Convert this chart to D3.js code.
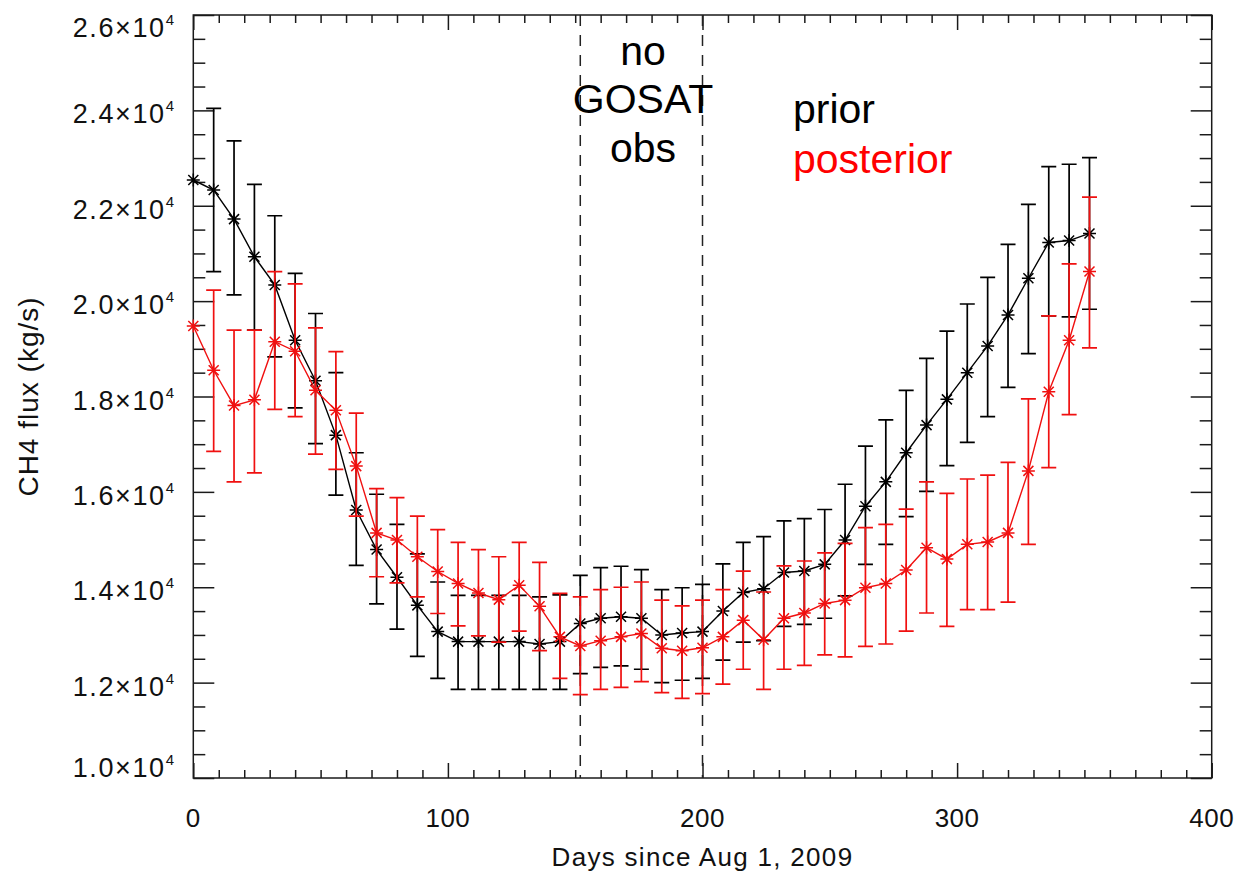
<!DOCTYPE html>
<meta charset="utf-8">
<head>
  <title>CH4 flux prior vs posterior</title>
  <script src="https://d3js.org/d3.v7.min.js"></script>
  <style>
    body { margin: 0; background: #fff; }
    text { font-family: "Liberation Sans", Arial, sans-serif; }
  </style>
</head>
<body>
<div id="chart"></div>
<script>
// days since Aug 1, 2009 (one point every 8 days)
var days = [0, 8, 16, 24, 32, 40, 48, 56, 64, 72, 80, 88, 96, 104, 112, 120, 128, 136, 144, 152, 160, 168,
  176, 184, 192, 200, 208, 216, 224, 232, 240, 248, 256, 264, 272, 280, 288, 296, 304, 312, 320, 328, 336, 344, 352];

// prior flux (kg/s) and its error bar ends
var prior = [22540, 22330, 21720, 20930, 20340, 19180, 18330, 17190, 15620, 14790, 14210, 13620, 13070, 12860, 12860,
  12860, 12860, 12810, 12860, 13240, 13350, 13380, 13350, 13000, 13040, 13070, 13500, 13890, 13970, 14310, 14340,
  14480, 14990, 15700, 16210, 16820, 17400, 17940, 18500, 19060, 19710, 20480, 21230, 21270, 21420];
var priorHi = [null, 24040, 23360, 22450, 21790, 20580, 19740, 18500, 16820, 15950, 15320, 14700, 14110, 13830, 13830,
  13830, 13830, 13800, 13840, 14250, 14410, 14440, 14370, 13950, 13990, 14060, 14490, 14940, 15060, 15390, 15440,
  15630, 16160, 16960, 17510, 18130, 18800, 19370, 19940, 20500, 21190, 22030, 22820, 22870, 23010];
var priorLo = [null, 20620, 20130, 19390, 18830, 17760, 17010, 15930, 14460, 13650, 13120, 12550, 12090, 11860, 11860,
  11860, 11860, 11860, 11860, 12190, 12320, 12350, 12280, 12000, 12050, 12090, 12470, 12850, 12880, 13180, 13220,
  13350, 13820, 14480, 14900, 15480, 16010, 16550, 17040, 17580, 18190, 18900, 19690, 19670, 19830];

// posterior flux (kg/s) and its error bar ends
var posterior = [19480, 18550, 17810, 17930, 19150, 18950, 18130, 17710, 16540, 15140, 14990, 14640, 14330, 14080, 13880,
  13740, 14040, 13600, 12960, 12770, 12880, 12960, 13030, 12720, 12670, 12730, 12960, 13310, 12900, 13350, 13460,
  13660, 13730, 13990, 14080, 14360, 14830, 14590, 14900, 14950, 15140, 16440, 18100, 19180, 20620];
var postHi = [null, 20230, 19390, 19390, 20620, 20360, 19440, 18940, 17650, 16070, 15880, 15490, 15210, 14940, 14790,
  14640, 14940, 14520, 13870, 13800, 13950, 14000, 14110, 13730, 13610, 13730, 13950, 14340, 13900, 14450, 14550,
  14720, 14920, 15250, 15320, 15640, 16210, 15970, 16270, 16350, 16620, 17950, 19690, 20780, 22180];
var postLo = [null, 16850, 16210, 16400, 17730, 17580, 16790, 16470, 15490, 14220, 14090, 13800, 13450, 13190, 12980,
  12850, 13080, 12670, 12090, 11750, 11860, 11900, 12020, 11790, 11670, 11770, 11970, 12280, 11860, 12280, 12360,
  12580, 12540, 12760, 12810, 13080, 13460, 13180, 13530, 13530, 13690, 14900, 16510, 17620, 19020];

var xTicks = [0, 100, 200, 300, 400];
var yTicks = [10000, 12000, 14000, 16000, 18000, 20000, 22000, 24000, 26000];
var yTickText = ["1.0", "1.2", "1.4", "1.6", "1.8", "2.0", "2.2", "2.4", "2.6"];
var noObsDays = [152, 200];

var svg = d3.select("#chart").append("svg")
  .attr("width", 1240).attr("height", 879);

var x = d3.scaleLinear().domain([0, 400]).range([193.3, 1211.7]);
var y = d3.scaleLinear().domain([10000, 26000]).range([778, 15]);

var axisColor = "#1a1a1a";

// mirrored minor / major ticks on all four sides
function tickAxis(axisFn, scale, values, size, tx, ty) {
  var g = svg.append("g").attr("transform", "translate(" + tx + "," + ty + ")")
    .call(axisFn(scale).tickValues(values).tickSize(size).tickFormat(""));
  g.select(".domain").remove();
  g.selectAll("line").attr("stroke", axisColor).attr("stroke-width", 1.5);
  return g;
}
var xMinor = d3.range(0, 401, 10).filter(function(d) { return d % 100 != 0; });
var yMinor = d3.range(10000, 26001, 500).filter(function(d) { return d % 2000 != 0; });
tickAxis(d3.axisBottom, x, xTicks, -15, 0, 778);
tickAxis(d3.axisBottom, x, xMinor, -8, 0, 778);
tickAxis(d3.axisTop, x, xTicks, -15, 0, 15);
tickAxis(d3.axisTop, x, xMinor, -8, 0, 15);
tickAxis(d3.axisLeft, y, yTicks, -21, 193.3, 0);
tickAxis(d3.axisLeft, y, yMinor, -12, 193.3, 0);
tickAxis(d3.axisRight, y, yTicks, -21, 1211.7, 0);
tickAxis(d3.axisRight, y, yMinor, -12, 1211.7, 0);

// frame
svg.append("rect")
  .attr("x", x(0)).attr("y", y(26000))
  .attr("width", x(400) - x(0)).attr("height", y(10000) - y(26000))
  .attr("fill", "none").attr("stroke", axisColor).attr("stroke-width", 1.5);

// x tick labels
svg.append("g").selectAll("text")
  .data(xTicks).enter().append("text")
  .attr("x", function(d) { return x(d); })
  .attr("y", 827)
  .attr("text-anchor", "middle")
  .style("font-size", "26px").style("letter-spacing", "0.5px")
  .attr("fill", "#111")
  .text(function(d) { return d; });

// y tick labels: "2.6x10^4" (IDL shifts the end labels inside)
var yl = svg.append("g").selectAll("text")
  .data(yTicks).enter().append("text")
  .attr("x", 174)
  .attr("y", function(d, i) {
    if (i == 0) return y(d) - 1;
    if (i == yTicks.length - 1) return y(d) + 22;
    return y(d) + 13;
  })
  .attr("text-anchor", "end")
  .style("font-size", "27px").style("letter-spacing", "1.6px")
  .attr("fill", "#111");
yl.append("tspan").text(function(d, i) { return yTickText[i] + "\u00d710"; });
yl.append("tspan").attr("dy", -12).style("font-size", "15px").style("letter-spacing", "0px").text("4");

// axis titles
svg.append("text")
  .attr("x", (x(0) + x(400)) / 2).attr("y", 866)
  .attr("text-anchor", "middle")
  .style("font-size", "26px").style("letter-spacing", "1.3px")
  .attr("fill", "#111")
  .text("Days since Aug 1, 2009");

svg.append("text")
  .attr("transform", "translate(38," + ((y(10000) + y(26000)) / 2) + ") rotate(-90)")
  .attr("text-anchor", "middle")
  .style("font-size", "28px").style("letter-spacing", "1px")
  .attr("fill", "#111")
  .text("CH4 flux (kg/s)");

// dashed lines bounding the period with no GOSAT obs
svg.append("g").selectAll("line")
  .data(noObsDays).enter().append("line")
  .attr("x1", function(d) { return x(d); })
  .attr("x2", function(d) { return x(d); })
  .attr("y1", y(26000)).attr("y2", y(10000))
  .attr("stroke", "#222").attr("stroke-width", 1.5)
  .attr("stroke-dasharray", "11,9");

// one series: error bars, line and asterisk markers
function drawSeries(vals, hi, lo, color) {
  var pts = days.map(function(d, i) { return {day: d, v: vals[i], hi: hi[i], lo: lo[i]}; });
  var g = svg.append("g");
  var bars = pts.filter(function(p) { return p.hi != null; });
  var cap = 7.5;
  g.selectAll(".bar").data(bars).enter().append("path")
    .attr("d", function(p) {
      var cx = x(p.day), t = y(p.hi), b = y(p.lo);
      return "M" + cx + "," + t + "V" + b +
        "M" + (cx - cap) + "," + t + "H" + (cx + cap) +
        "M" + (cx - cap) + "," + b + "H" + (cx + cap);
    })
    .attr("fill", "none").attr("stroke", color).attr("stroke-width", 1.7);

  g.append("path")
    .datum(pts)
    .attr("d", d3.line().x(function(p) { return x(p.day); }).y(function(p) { return y(p.v); }))
    .attr("fill", "none").attr("stroke", color).attr("stroke-width", 1.4);

  var s = 6.5, dd = 5;
  g.selectAll(".star").data(pts).enter().append("path")
    .attr("d", function(p) {
      var cx = x(p.day), cy = y(p.v);
      return "M" + (cx - s) + "," + cy + "H" + (cx + s) +
        "M" + cx + "," + (cy - s) + "V" + (cy + s) +
        "M" + (cx - dd) + "," + (cy - dd) + "L" + (cx + dd) + "," + (cy + dd) +
        "M" + (cx - dd) + "," + (cy + dd) + "L" + (cx + dd) + "," + (cy - dd);
    })
    .attr("fill", "none").attr("stroke", color).attr("stroke-width", 1.5);
}

drawSeries(prior, priorHi, priorLo, "#000");
drawSeries(posterior, postHi, postLo, "#f01010");

// annotations
var note = svg.append("text")
  .attr("text-anchor", "middle")
  .style("font-size", "41px")
  .attr("fill", "#000");
note.append("tspan").attr("x", 643).attr("y", 65).text("no");
note.append("tspan").attr("x", 643).attr("y", 113).text("GOSAT");
note.append("tspan").attr("x", 643).attr("y", 162).text("obs");

svg.append("text").attr("x", 793).attr("y", 123)
  .style("font-size", "41px").attr("fill", "#000").text("prior");
svg.append("text").attr("x", 793).attr("y", 173)
  .style("font-size", "41px").attr("fill", "#ff0000").text("posterior");
</script>
</body>
